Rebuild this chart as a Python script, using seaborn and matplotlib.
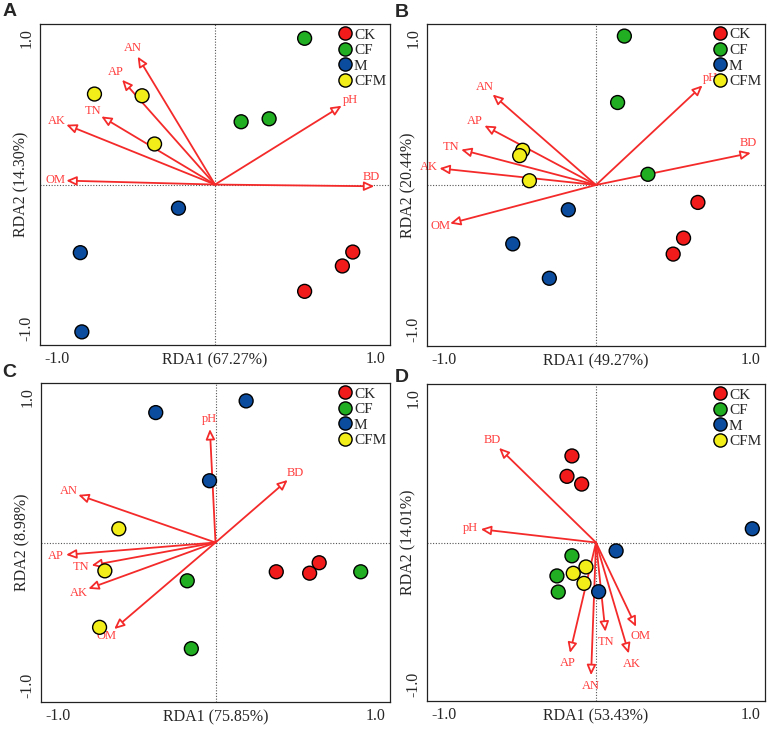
"""RDA biplots, four panels."""

import matplotlib
matplotlib.use("Agg")
import matplotlib.pyplot as plt
from matplotlib.lines import Line2D
import numpy as np
import pandas as pd
import seaborn as sns

groups = ["CK", "CF", "M", "CFM"]
group_colors = ["#F21B1B", "#22AE22", "#0C4C9E", "#F2EE1A"]
sample_group = ["CK"] * 3 + ["CF"] * 3 + ["M"] * 3 + ["CFM"] * 3
env_vars = ["AN", "AP", "TN", "AK", "OM", "pH", "BD"]

# panel A
a_x = [0.807, 0.746, 0.525, 0.525, 0.153, 0.317, -0.214, -0.789, -0.780, -0.706, -0.427, -0.354]
a_y = [-0.431, -0.520, -0.682, 0.934, 0.401, 0.420, -0.151, -0.435, -0.941, 0.578, 0.567, 0.259]
a_env_x = [-0.453, -0.544, -0.666, -0.871, -0.871, 0.742, 0.933]
a_env_y = [0.817, 0.669, 0.435, 0.382, 0.025, 0.503, -0.011]
a_var = (67.27, 14.30)

# panel B
b_x = [0.618, 0.531, 0.468, 0.172, 0.131, 0.315, -0.168, -0.505, -0.283, -0.445, -0.463, -0.404]
b_y = [-0.111, -0.338, -0.440, 0.948, 0.525, 0.068, -0.158, -0.375, -0.594, 0.221, 0.187, 0.027]
b_env_x = [-0.627, -0.677, -0.818, -0.950, -0.885, 0.646, 0.939]
b_env_y = [0.576, 0.378, 0.225, 0.106, -0.245, 0.634, 0.204]
b_var = (49.27, 20.44)

# panel C
c_x = [0.357, 0.553, 0.609, -0.166, -0.142, 0.853, -0.351, 0.180, -0.035, -0.568, -0.650, -0.681]
c_y = [-0.188, -0.197, -0.130, -0.246, -0.682, -0.188, 0.835, 0.910, 0.397, 0.088, -0.182, -0.545]
c_env_x = [-0.806, -0.878, -0.728, -0.747, -0.595, -0.033, 0.424]
c_env_y = [0.306, -0.079, -0.147, -0.297, -0.556, 0.729, 0.402]
c_var = (75.85, 8.98)

# panel D
d_x = [-0.146, -0.176, -0.087, -0.146, -0.237, -0.229, 0.948, 0.122, 0.016, -0.061, -0.138, -0.073]
d_y = [0.560, 0.428, 0.378, -0.086, -0.216, -0.320, 0.089, -0.054, -0.318, -0.158, -0.199, -0.264]
d_env_x = [-0.030, -0.158, 0.057, 0.199, 0.243, -0.699, -0.588]
d_env_y = [-0.858, -0.714, -0.577, -0.718, -0.545, 0.086, 0.612]
d_var = (53.43, 14.01)

sns.set_style("white")
plt.rcParams["font.family"] = ["Liberation Serif", "DejaVu Serif"]
plt.rcParams["axes.unicode_minus"] = False

ARROW = "#F42A2A"
LABEL = "#FF3C3C"
LIM = 1.025


def draw_panel(ax, xs, ys, env_x, env_y, var):
    df = pd.DataFrame({"RDA1": xs, "RDA2": ys, "group": sample_group})
    ax.axhline(0, color="#555555", lw=0.8, ls=(0, (1, 1.5)), zorder=1)
    ax.axvline(0, color="#555555", lw=0.8, ls=(0, (1, 1.5)), zorder=1)
    for name, ex, ey in zip(env_vars, env_x, env_y):
        ax.annotate("", xy=(ex, ey), xytext=(0, 0),
                    arrowprops=dict(arrowstyle="-|>,head_length=0.6,head_width=0.27",
                                    ec=ARROW, fc="white", lw=1.3,
                                    shrinkA=0, shrinkB=0), zorder=2)
        d = np.hypot(ex, ey)
        if ex > 0.9:
            # arrows hitting the right edge: label sits above the tip
            off = (-2, 7)
        else:
            off = (7.5 * ex / d, 7.5 * ey / d)
        ax.annotate(name, xy=(ex, ey), xytext=off,
                    textcoords="offset points", ha="center", va="center",
                    color=LABEL, fontsize=9, zorder=2)
    sns.scatterplot(data=df, x="RDA1", y="RDA2", hue="group", hue_order=groups,
                    palette=group_colors, s=100, edgecolor="black", linewidth=1,
                    legend=False, ax=ax, zorder=3)
    handles = [Line2D([], [], marker="o", ls="", ms=9.5, mfc=c, mec="black", mew=1)
               for c in group_colors]
    ax.legend(handles, groups, loc="upper right", bbox_to_anchor=(1.0, 1.0),
              frameon=False, fontsize=11, borderpad=0.25, borderaxespad=0,
              handletextpad=0.1, handlelength=1.0, labelspacing=0.12)
    ax.set_xlim(-LIM, LIM)
    ax.set_ylim(-LIM, LIM)
    ticks = [-1, -0.5, 0, 0.5, 1]
    ax.set_xticks(ticks, ["-1.0", "", "", "", "1.0"])
    ax.set_yticks(ticks, ["-1.0", "", "", "", "1.0"], rotation=90)
    ax.tick_params(direction="inout", length=4, width=0.9, labelsize=11.5,
                   pad=2, color="#222222")
    xl = ax.get_xticklabels()
    xl[0].set_ha("left")
    xl[-1].set_ha("right")
    yl = ax.get_yticklabels()
    yl[0].set_va("bottom")
    yl[-1].set_va("top")
    for s in ax.spines.values():
        s.set_linewidth(0.9)
        s.set_color("#222222")
    ax.set_xlabel(f"RDA1 ({var[0]:.2f}%)", fontsize=11.5)
    ax.set_ylabel(f"RDA2 ({var[1]:.2f}%)", fontsize=11.5)
    ax.xaxis.set_label_coords(0.5, -0.022)
    ax.yaxis.set_label_coords(-0.03, 0.5)


fig = plt.figure(figsize=(7.68, 7.29), dpi=100)
panels = [
    ("A", [0.0521, 0.5267, 0.4557, 0.4403], a_x, a_y, a_env_x, a_env_y, a_var, (0.003, 0.996)),
    ("B", [0.5560, 0.5254, 0.4401, 0.4417], b_x, b_y, b_env_x, b_env_y, b_var, (0.514, 0.994)),
    ("C", [0.0534, 0.0370, 0.4544, 0.4376], c_x, c_y, c_env_x, c_env_y, c_var, (0.003, 0.501)),
    ("D", [0.5560, 0.0384, 0.4401, 0.4348], d_x, d_y, d_env_x, d_env_y, d_var, (0.514, 0.494)),
]
for letter, rect, xs, ys, ex, ey, var, pos in panels:
    ax = fig.add_axes(rect)
    draw_panel(ax, xs, ys, ex, ey, var)
    fig.text(pos[0], pos[1], letter, ha="left", va="top", fontsize=14,
             fontweight="bold", family=["Liberation Sans", "DejaVu Sans"])

fig.savefig("out.png", dpi=100)
plt.close(fig)
